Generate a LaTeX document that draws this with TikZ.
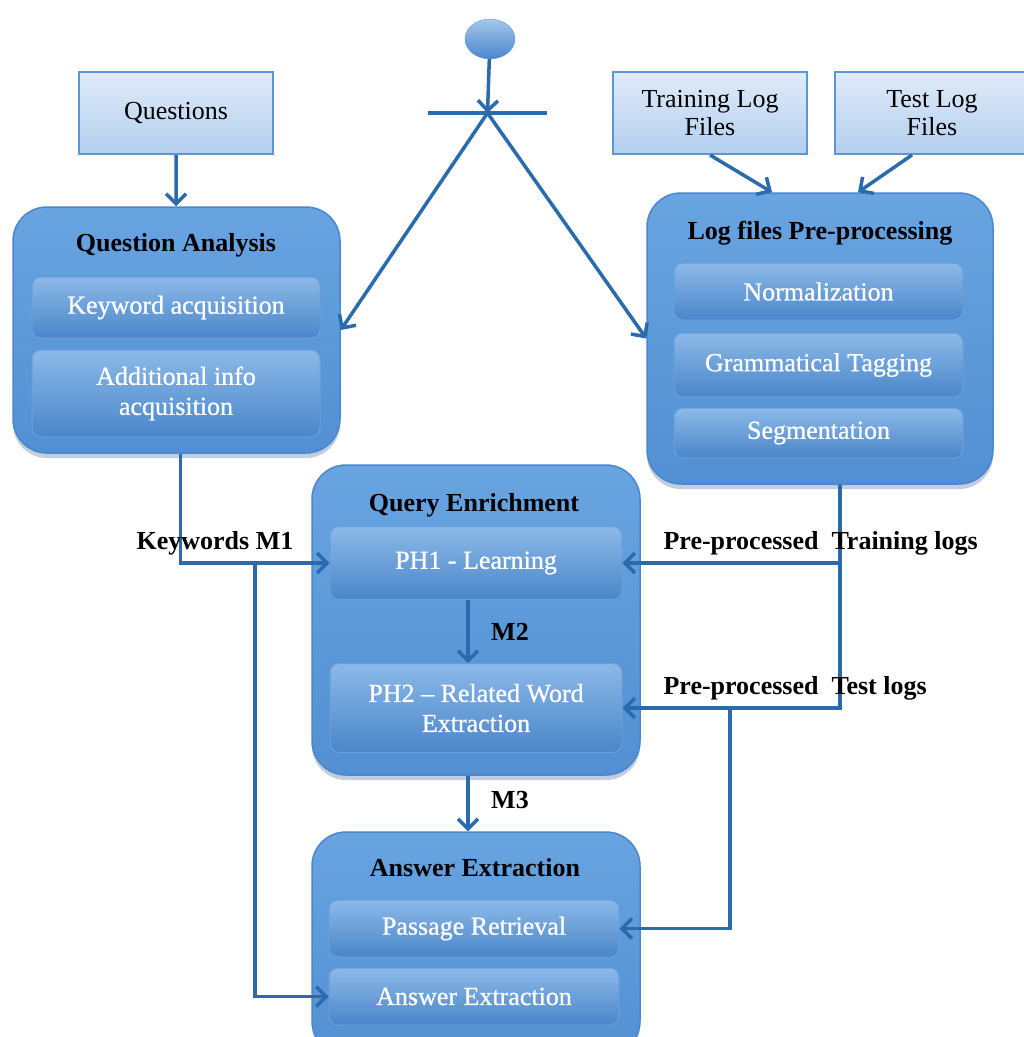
\documentclass[tikz,border=0pt]{standalone}
\usepackage{fontspec}
\setmainfont{Liberation Serif}
\newfontfamily\subfont[FakeBold=0.8,Ligatures=TeX]{Liberation Serif}
\usetikzlibrary{arrows.meta,shapes.geometric,shadows}
\definecolor{arrowblue}{HTML}{2A6BAE}
\definecolor{outertop}{HTML}{68A4E0}
\definecolor{outerbot}{HTML}{5290D3}
\definecolor{outerline}{HTML}{4A87CE}
\definecolor{shadowblue}{HTML}{2F5F99}
\definecolor{subtop}{HTML}{8CB9E8}
\definecolor{subbot}{HTML}{4A86CA}
\definecolor{subline}{HTML}{6A9FDA}
\definecolor{srctop}{HTML}{E0ECF9}
\definecolor{srcbot}{HTML}{B3CEEE}
\definecolor{srcline}{HTML}{5C96D6}
\begin{document}
\begin{tikzpicture}[x=1pt,y=-1pt,
  outerbox/.style={rounded corners=34pt, draw=outerline, line width=1.5pt,
    top color=outertop, bottom color=outerbot, inner sep=0pt,
    drop shadow={shadow xshift=0pt,shadow yshift=-5pt,opacity=0.3,fill=shadowblue}},
  subbox/.style={rounded corners=9pt, draw=subline, line width=1pt,
    top color=subtop, bottom color=subbot, text=white, inner sep=0pt,
    font=\subfont\fontsize{26}{30}\selectfont, align=center},
  srcbox/.style={draw=srcline, line width=2pt, top color=srctop, bottom color=srcbot,
    inner sep=0pt, font=\fontsize{26}{28}\selectfont, align=center,
    minimum width=194pt, minimum height=82pt},
  titletext/.style={font=\bfseries\fontsize{26}{30}\selectfont},
  lbl/.style={font=\bfseries\fontsize{26}{30}\selectfont},
  arr/.style={draw=arrowblue, line width=3.5pt, -{Straight Barb[length=10pt,width=20pt]}}
]
\fill[white] (0,0) rectangle (1024,1037);
\clip (0,0) rectangle (1024,1037);

% start and fork bar
\node (start) [ellipse, minimum width=50pt, minimum height=40pt, inner sep=0pt,
  top color=subtop!80!white, bottom color=subbot, draw=subline] at (490,39) {};
\node (bar) [fill=arrowblue, minimum width=119pt, minimum height=3.5pt, inner sep=0pt] at (487.5,113) {};

% source boxes
\node (questions) [srcbox] at (176,113) {Questions};
\node (training) [srcbox] at (710,113) {Training Log\\Files};
\node (test) [srcbox] at (932,113) {Test Log\\Files};

% Question Analysis
\node (qa) [outerbox, minimum width=327pt, minimum height=246pt] at (176.5,330) {};
\node (qatitle) [titletext] at (176,245) {Question Analysis};
\node (kw) [subbox, minimum width=288pt, minimum height=61pt] at (176,307.5) {Keyword acquisition};
\node (addinfo) [subbox, minimum width=288pt, minimum height=87pt] at (176,393.5) {Additional info\\acquisition};

% Log files Pre-processing
\node (lp) [outerbox, minimum width=346pt, minimum height=291pt] at (820,338.5) {};
\node (lptitle) [titletext] at (820,233) {Log files Pre-processing};
\node (norm) [subbox, minimum width=289pt, minimum height=57pt] at (818.5,291.5) {Normalization};
\node (gram) [subbox, minimum width=289pt, minimum height=64pt] at (818.5,365) {Grammatical Tagging};
\node (seg) [subbox, minimum width=289pt, minimum height=50pt] at (818.5,433) {Segmentation};

% Query Enrichment
\node (qe) [outerbox, minimum width=328pt, minimum height=310pt] at (476,620) {};
\node (qetitle) [titletext] at (474,505) {Query Enrichment};
\node (ph1) [subbox, minimum width=292pt, minimum height=73pt] at (476,563) {PH1 - Learning};
\node (ph2) [subbox, minimum width=292pt, minimum height=89pt] at (476,708) {PH2 – Related Word\\Extraction};

% Answer Extraction
\node (ae) [outerbox, minimum width=328pt, minimum height=223pt] at (476,943.5) {};
\node (aetitle) [titletext] at (475,868) {Answer Extraction};
\node (pr) [subbox, minimum width=290pt, minimum height=57pt] at (474,928.5) {Passage Retrieval};
\node (ax) [subbox, minimum width=290pt, minimum height=57pt] at (474,996.5) {Answer Extraction};

% connectors
\draw[arr] (start) -- (bar.center);
\draw[arr] (bar.center) -- (qa.east);
\draw[arr] (bar.center) -- (lp.west);
\draw[arr] (questions) -- (qa);
\draw[arr] (training.south) -- ([xshift=-48pt]lp.north);
\draw[arr] ([xshift=-20pt]test.south) -- ([xshift=38pt]lp.north);

\coordinate (kwsplit) at (255,563);
\coordinate (trsplit) at (840,563);
\coordinate (tesplit) at (730,708);

\draw[arr] ([xshift=4pt]qa.south) |- (ph1.west);
\draw[arr] (kwsplit) |- (ax.west);
\draw[arr] ([xshift=20pt]lp.south) |- (ph1.east);
\draw[arr] (trsplit) |- (ph2.east);
\draw[arr] (tesplit) |- (pr.east);
\draw[arr] ([xshift=-8pt]ph1.south) -- ([xshift=-8pt]ph2.north);
\draw[arr] ([xshift=-8pt]qe.south) -- ([xshift=-8pt]ae.north);

% labels
\node (lm1) [lbl] at (215,543) {Keywords M1};
\node (ltr) [lbl, anchor=west] at (660,543) {Pre-processed\ \ Training logs};
\node (lte) [lbl, anchor=west] at (660,688) {Pre-processed\ \ Test logs};
\node (lm2) [lbl] at (510,632) {M2};
\node (lm3) [lbl] at (510,800) {M3};
\end{tikzpicture}
\end{document}
